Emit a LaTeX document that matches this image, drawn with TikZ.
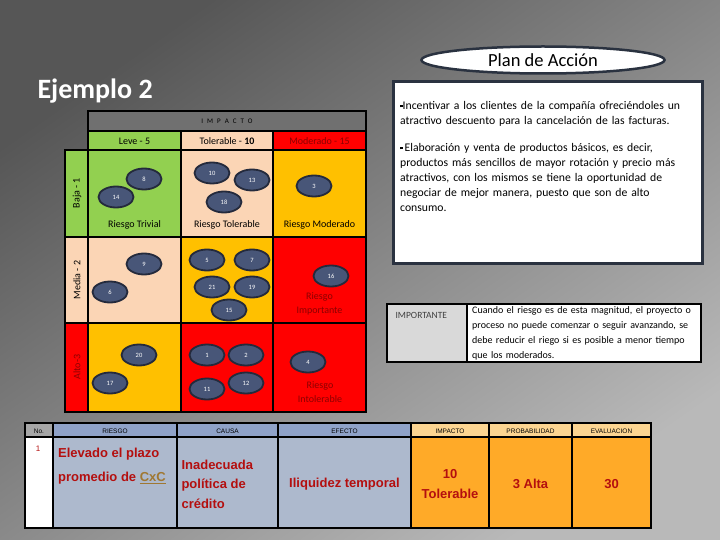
\documentclass[tikz,border=0pt]{standalone}
\usepackage{fontspec}
\setmainfont{Carlito}
\newfontfamily\arialf{Liberation Sans}
\usetikzlibrary{shapes.geometric,positioning}

\definecolor{fondoA}{RGB}{86,86,86}
\definecolor{fondoB}{RGB}{185,185,185}
\definecolor{verde}{RGB}{146,208,80}
\definecolor{durazno}{RGB}{251,213,181}
\definecolor{naranja}{RGB}{255,192,0}
\definecolor{rojo}{RGB}{255,0,0}
\definecolor{rojoosc}{RGB}{140,0,0}
\definecolor{impgris}{RGB}{112,112,112}
\definecolor{bolaazul}{RGB}{72,86,120}
\definecolor{bolaborde}{RGB}{36,42,60}
\definecolor{marco}{RGB}{42,50,64}
\definecolor{grisclaro}{RGB}{217,217,217}
\definecolor{cabgris}{RGB}{166,166,166}
\definecolor{cabazul}{RGB}{143,162,200}
\definecolor{cabnaranja}{RGB}{252,213,145}
\definecolor{azulcel}{RGB}{173,185,205}
\definecolor{naranjat}{RGB}{255,170,40}
\definecolor{textorojo}{RGB}{180,15,15}
\definecolor{oro}{RGB}{160,120,50}

\tikzset{
  bola/.style={ellipse, draw=bolaborde, line width=1.8pt, fill=bolaazul,
    minimum width=35pt, minimum height=21pt, inner sep=0pt,
    text=white, font=\fontsize{6.5}{7}\selectfont},
  rotulo/.style={font=\fontsize{10}{14}\selectfont, align=center},
  celda/.style={draw=black, line width=1.6pt},
  cab/.style={font=\arialf\fontsize{6.5}{7}\selectfont},
  dato/.style={font=\arialf\bfseries\fontsize{13}{19.5}\selectfont,
    text=textorojo, align=center}
}

\begin{document}
\begin{tikzpicture}[x=1pt,y=-1pt]
  % Fondo
  \useasboundingbox (0,0) rectangle (720,540);
  \shade[top color=fondoA, bottom color=fondoB, shading angle=35] (0,0) rectangle (720,540);

  % Titulo
  \node[anchor=west, text=white, font=\bfseries\fontsize{28}{30}\selectfont] (titulo) at (34,91) {Ejemplo 2};

  % Matriz
  \filldraw[celda, fill=impgris] (88,111) rectangle (366,131);
  \node[font=\fontsize{7}{8}\selectfont] (impacto) at (227,121)
    {I\hspace{4pt}M\hspace{4pt}P\hspace{4pt}A\hspace{4pt}C\hspace{4pt}T\hspace{4pt}O};
  \filldraw[celda, fill=verde] (88,131) rectangle (181,150);
  \filldraw[celda, fill=durazno] (181,131) rectangle (273,150);
  \filldraw[celda, fill=rojo] (273,131) rectangle (366,150);
  \node[rotulo] (leve) at (134.5,141) {Leve - 5};
  \node[rotulo] (tolerable) at (227,141) {Tolerable - \textbf{10}};
  \node[rotulo, text=rojoosc] (moderado) at (319.5,141) {Moderado - 15};

  \filldraw[celda, fill=verde] (65,150) rectangle (88,237);
  \filldraw[celda, fill=durazno] (65,237) rectangle (88,323);
  \filldraw[celda, fill=rojo] (65,323) rectangle (88,412);
  \node[rotulo, rotate=90] (baja) at (77,193) {Baja - 1};
  \node[rotulo, rotate=90] (media) at (77,280) {Media - 2};
  \node[rotulo, rotate=90, text=rojoosc] (alto) at (77,367) {Alto-3};

  \filldraw[celda, fill=verde] (88,150) rectangle (181,237);
  \filldraw[celda, fill=durazno] (181,150) rectangle (273,237);
  \filldraw[celda, fill=naranja] (273,150) rectangle (366,237);
  \filldraw[celda, fill=durazno] (88,237) rectangle (181,323);
  \filldraw[celda, fill=naranja] (181,237) rectangle (273,323);
  \filldraw[celda, fill=rojo] (273,237) rectangle (366,323);
  \filldraw[celda, fill=naranja] (88,323) rectangle (181,412);
  \filldraw[celda, fill=rojo] (181,323) rectangle (273,412);
  \filldraw[celda, fill=rojo] (273,323) rectangle (366,412);

  \node[rotulo] (trivial) at (134.5,225) {Riesgo Trivial};
  \node[rotulo] (rtolerable) at (227,225) {Riesgo Tolerable};
  \node[rotulo] (rmoderado) at (319.5,225) {Riesgo Moderado};
  \node[rotulo, text=rojoosc] (importante) at (319.5,304) {Riesgo\\Importante};
  \node[rotulo, text=rojoosc] (intolerable) at (320,392) {Riesgo\\Intolerable};

  % Riesgos
  \node[bola] (r8) at (144,179) {8};
  \node[bola] (r14) at (116,197) {14};
  \node[bola] (r10) at (212,173) {10};
  \node[bola] (r13) at (252,180) {13};
  \node[bola] (r18) at (224,202) {18};
  \node[bola] (r3) at (314,186) {3};
  \node[bola] (r9) at (144,264) {9};
  \node[bola] (r6) at (110,292) {6};
  \node[bola] (r5) at (207,260) {5};
  \node[bola] (r7) at (252,260) {7};
  \node[bola] (r21) at (212,287) {21};
  \node[bola] (r19) at (252,287) {19};
  \node[bola] (r15) at (229,310) {15};
  \node[bola] (r16) at (331,276) {16};
  \node[bola] (r20) at (139,355) {20};
  \node[bola] (r17) at (110,383) {17};
  \node[bola] (r1) at (207,355) {1};
  \node[bola] (r2) at (246,355) {2};
  \node[bola] (r11) at (207,389) {11};
  \node[bola] (r12) at (246,383) {12};
  \node[bola] (r4) at (308,362) {4};

  % Plan de accion
  \node[ellipse, draw=marco, line width=2.5pt, fill=white, minimum width=243pt,
    minimum height=27pt, inner sep=0pt, font=\fontsize{18.5}{19}\selectfont] (plan) at (543,60) {Plan de Acción};
  \filldraw[draw=marco, line width=3pt, fill=white] (393,82) rectangle (702,263);
  \node[anchor=north west, text width=300pt, align=left, inner sep=0pt,
    font=\fontsize{11.7}{15}\selectfont] (acciones) at (400,101)
    {\raisebox{2pt}{\rule{2.5pt}{2.5pt}}Incentivar a los clientes de la compañía ofreciéndoles un\\
     atractivo descuento para la cancelación de las facturas.\\[12pt]
     \raisebox{2pt}{\rule{2.5pt}{2.5pt}}\,Elaboración y venta de productos básicos, es decir,\\
     productos más sencillos de mayor rotación y precio más\\
     atractivos, con los mismos se tiene la oportunidad de\\
     negociar de mejor manera, puesto que son de alto\\
     consumo.};

  % Importante
  \filldraw[draw=black, line width=2pt, fill=grisclaro] (387,304) rectangle (467,362);
  \filldraw[draw=black, line width=2pt, fill=white] (467,304) rectangle (701,362);
  \node[anchor=west, font=\fontsize{9.5}{10}\selectfont, text=black!75] (imp) at (392,315) {IMPORTANTE};
  \node[anchor=north west, text width=232pt, align=left, inner sep=0pt,
    font=\fontsize{10}{15}\selectfont] (cuando) at (472,306)
    {Cuando el riesgo es de esta magnitud, el proyecto o\\
     proceso no puede comenzar o seguir avanzando, se\\
     debe reducir el riego si es posible a menor tiempo\\
     que los moderados.};

  % Tabla
  \filldraw[celda, fill=cabgris] (25,423) rectangle (53,437);
  \filldraw[celda, fill=cabazul] (53,423) rectangle (177,437);
  \filldraw[celda, fill=cabazul] (177,423) rectangle (278,437);
  \filldraw[celda, fill=cabazul] (278,423) rectangle (411,437);
  \filldraw[celda, fill=cabnaranja] (411,423) rectangle (489,437);
  \filldraw[celda, fill=cabnaranja] (489,423) rectangle (572,437);
  \filldraw[celda, fill=cabnaranja] (572,423) rectangle (651,437);
  \filldraw[celda, fill=white] (25,437) rectangle (53,528);
  \filldraw[celda, fill=azulcel] (53,437) rectangle (177,528);
  \filldraw[celda, fill=azulcel] (177,437) rectangle (278,528);
  \filldraw[celda, fill=azulcel] (278,437) rectangle (411,528);
  \filldraw[celda, fill=naranjat] (411,437) rectangle (489,528);
  \filldraw[celda, fill=naranjat] (489,437) rectangle (572,528);
  \filldraw[celda, fill=naranjat] (572,437) rectangle (651,528);

  \node[cab] (hno) at (39,431) {No.};
  \node[cab] (hriesgo) at (115,431) {RIESGO};
  \node[cab] (hcausa) at (227.5,431) {CAUSA};
  \node[cab] (hefecto) at (344.5,431) {EFECTO};
  \node[cab] (himpacto) at (450,431) {IMPACTO};
  \node[cab] (hprob) at (530.5,431) {PROBABILIDAD};
  \node[cab] (heval) at (611.5,431) {EVALUACION};

  \node[font=\arialf\fontsize{8}{9}\selectfont, text=textorojo] (uno) at (38,449) {1};
  \node[dato, anchor=north west, align=left, font=\arialf\bfseries\fontsize{13}{24}\selectfont, inner sep=0pt] (riesgo) at (58,448)
    {Elevado el plazo\\promedio de \textcolor{oro}{\underline{CxC}}};
  \node[dato, anchor=west, align=left] (causa) at (178,484) {Inadecuada\\política de\\crédito};
  \node[dato] (efecto) at (344.5,484) {Iliquidez temporal};
  \node[dato] (impacto1) at (450,484) {10\\Tolerable};
  \node[dato] (prob) at (530.5,484) {3 Alta};
  \node[dato] (eval) at (611.5,484) {30};
\end{tikzpicture}
\end{document}
